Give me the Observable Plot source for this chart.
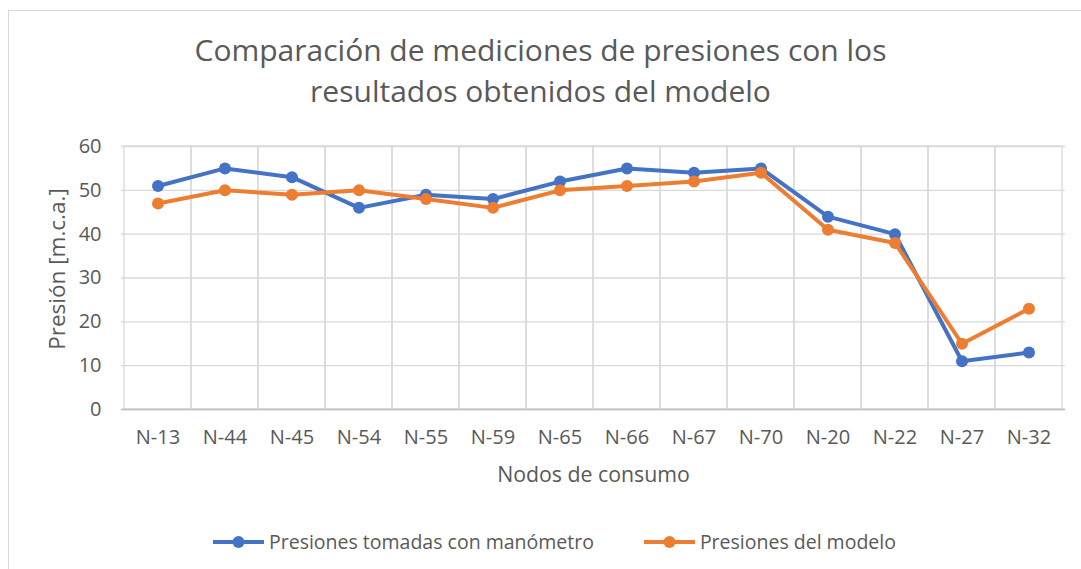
<!DOCTYPE html>
<html>
<head>
<meta charset="utf-8">
<script src="https://cdn.jsdelivr.net/npm/d3@7"></script>
<script src="https://cdn.jsdelivr.net/npm/@observablehq/plot@0.6"></script>
<style>
  html, body { margin: 0; padding: 0; background: #fff; }
  #wrap { position: relative; width: 1081px; height: 569px; overflow: hidden; font-family: "Open Sans", sans-serif; color: #595959; }
  #frame { position: absolute; left: 8px; top: 10px; width: 1200px; height: 700px; border: 1px solid #d9d9d9; box-sizing: border-box; }
  #title { position: relative; padding-top: 29px; height: 91px; text-align: center; font-size: 30px; line-height: 41px; }
  #chart svg { display: block; }
  #legend { position: relative; display: flex; align-items: center; gap: 50px; padding-left: 213px; margin-top: 35px; height: 24px; font-size: 19.5px; line-height: 24px; }
  .item { display: flex; align-items: center; gap: 5px; }
</style>
</head>
<body>
<div id="wrap">
  <div id="frame"></div>
  <div id="title"></div>
  <div id="chart"></div>
  <div id="legend"></div>
</div>
<script>
const nodes = ["N-13","N-44","N-45","N-54","N-55","N-59","N-65","N-66","N-67","N-70","N-20","N-22","N-27","N-32"];
const measured = [51,55,53,46,49,48,52,55,54,55,44,40,11,13];
const model = [47,50,49,50,48,46,50,51,52,54,41,38,15,23];
const seriesNames = ["Presiones tomadas con manómetro", "Presiones del modelo"];
const seriesColors = ["#4472C4", "#ED7D31"];
const yTicks = [0,10,20,30,40,50,60];
const titleLines = ["Comparación de mediciones de presiones con los", "resultados obtenidos del modelo"];
const xLabel = "Nodos de consumo";
const yLabel = "Presión [m.c.a.]";

document.getElementById("title").innerHTML = titleLines.join("<br>");

const data = [];
[measured, model].forEach((vals, s) => {
  vals.forEach((v, i) => data.push({node: nodes[i], value: v, series: seriesNames[s]}));
});

const yMax = d3.max(yTicks);
const chart = Plot.plot({
  width: 1081,
  height: 375,
  marginLeft: 121,
  marginRight: 16,
  marginTop: 26,
  marginBottom: 86,
  style: {fontFamily: "Open Sans", fontSize: "20px", color: "#595959", background: "transparent"},
  x: {type: "band", domain: nodes, padding: 0, tickSize: 0, tickPadding: 20, label: null},
  y: {domain: [0, yMax], ticks: yTicks, tickSize: 0, tickPadding: 20, label: null},
  color: {domain: seriesNames, range: seriesColors},
  marks: [
    Plot.ruleY(yTicks, {y: d => d, stroke: "#d9d9d9", strokeWidth: 1.3}),
    Plot.barY(nodes, {x: d => d, y1: 0, y2: yMax, fill: "none", stroke: "#d9d9d9", strokeWidth: 1.3}),
    Plot.ruleY([0], {y: d => d, stroke: "#bfbfbf", strokeWidth: 1.3}),
    Plot.line(data, {x: "node", y: "value", z: "series", stroke: "series", strokeWidth: 4}),
    Plot.dot(data, {x: "node", y: "value", fill: "series", r: 6}),
    Plot.text([yLabel], {text: d => d, frameAnchor: "left", textAnchor: "middle", rotate: -90, dx: -64, dy: -9, fontSize: 22.5, fill: "#595959"}),
    Plot.text([xLabel], {text: d => d, frameAnchor: "bottom", textAnchor: "middle", dy: 72, fontSize: 21.3, fill: "#595959"})
  ]
});
document.getElementById("chart").appendChild(chart);

const legend = document.getElementById("legend");
seriesNames.forEach((name, i) => {
  const item = document.createElement("div");
  item.className = "item";
  item.innerHTML = `<svg width="51" height="14"><line x1="0" x2="51" y1="7" y2="7" stroke="${seriesColors[i]}" stroke-width="4"/><circle cx="25.5" cy="7" r="6" fill="${seriesColors[i]}"/></svg><span>${name}</span>`;
  legend.appendChild(item);
});
</script>
</body>
</html>
